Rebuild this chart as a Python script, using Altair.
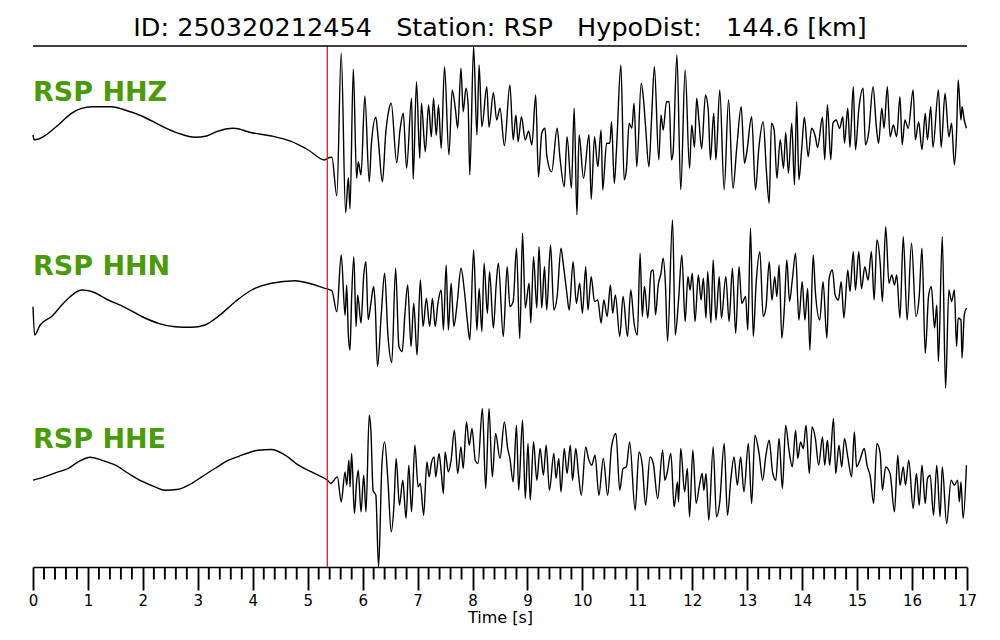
import altair as alt
import pandas as pd

NB = "\u00a0"
TITLE = "ID: 250320212454" + NB * 3 + "Station: RSP" + NB * 3 + "HypoDist:" + NB * 3 + "144.6 [km]"
CHANNELS = ["RSP HHZ", "RSP HHN", "RSP HHE"]
OFFSETS = [173.7, 0.0, -173.7]
PICK_TIME = 5.357
GREEN = "#4a9b08"

HHZ = [(0.00,-2),(0.02,-7),(0.46,7.8),(0.70,19.5),(1.07,26),(1.43,26),(1.67,22.8),(1.98,16.8),(2.34,6.8),(2.65,-0.5),(2.95,-4.5),(3.16,-3.2),(3.34,1.1),(3.65,4.5),(3.98,0.1),(4.34,-3.2),(4.71,-8.9),(5.01,-17.2),(5.31,-27.2),(5.36,-25.5),(5.44,-24.5),(5.53,-63),(5.61,79.5),(5.69,-80),(5.74,-45),(5.77,-76),(5.83,63.5),(5.89,-45.5),(5.92,-29),(5.97,-42),(6.04,36.8),(6.12,-49),(6.16,-10.5),(6.24,15.5),(6.28,-4),(6.36,-49),(6.42,-0.5),(6.47,21),(6.52,29.5),(6.62,-30),(6.68,2.8),(6.74,19.5),(6.80,-35.5),(6.89,34.5),(6.92,-46.5),(6.98,51),(7.04,-25.5),(7.07,29.5),(7.14,-19),(7.20,27.8),(7.25,-4),(7.29,34.5),(7.34,-2.5),(7.38,27.8),(7.43,-15.5),(7.49,66),(7.57,-22),(7.63,42.8),(7.69,22.8),(7.73,4.5),(7.79,64.5),(7.83,21),(7.88,44.5),(7.92,28),(7.95,-42),(8.02,86),(8.08,-2.2),(8.12,67.8),(8.17,6),(8.26,46),(8.30,5.5),(8.38,40),(8.44,12.8),(8.50,24.5),(8.58,-13),(8.68,47.8),(8.74,-7),(8.79,17.8),(8.83,-9),(8.89,16),(8.96,-7),(9.02,1.5),(9.08,-12),(9.15,37.8),(9.20,-44),(9.26,-0.5),(9.32,4.5),(9.35,-22),(9.44,-39),(9.54,4.5),(9.59,-24),(9.67,-54),(9.72,-4),(9.80,-55.5),(9.85,24.5),(9.90,-82),(9.94,-2.2),(10.02,-45.5),(10.12,-2),(10.16,-66.5),(10.22,-4),(10.28,-34),(10.34,2.8),(10.37,-57),(10.44,-10.5),(10.50,-10.5),(10.53,11),(10.58,-50.5),(10.62,-17),(10.70,67.8),(10.76,-47),(10.80,-37),(10.85,9.5),(10.90,4.5),(10.94,29.5),(10.99,-34),(11.07,49.5),(11.11,34.5),(11.15,6),(11.21,-34),(11.26,16),(11.31,66),(11.39,-27),(11.43,17.8),(11.47,2.8),(11.53,31),(11.58,31),(11.62,-27),(11.65,-20),(11.72,77.8),(11.79,-57),(11.87,62.8),(11.95,-35.5),(11.99,7.8),(12.04,-14.5),(12.08,34.5),(12.12,12.8),(12.17,-16),(12.24,37.8),(12.29,23),(12.33,-27),(12.39,19.5),(12.43,-27),(12.50,42.8),(12.58,-57),(12.66,33),(12.74,-55.5),(12.81,-14.5),(12.89,26),(12.95,-30.5),(12.99,-20),(13.08,16),(13.15,-57),(13.21,-16),(13.29,11),(13.35,-39),(13.40,-70.5),(13.44,9.5),(13.49,2.8),(13.54,-45.5),(13.60,-7),(13.66,-35.5),(13.70,0),(13.75,-40.5),(13.81,9.5),(13.86,-52),(13.90,31),(13.94,-47),(13.99,-17),(14.04,15.5),(14.11,-24),(14.17,4.5),(14.24,-4),(14.28,-14.5),(14.37,15.5),(14.41,-27),(14.46,28),(14.52,-27),(14.56,9.5),(14.62,12.8),(14.68,4.5),(14.74,16),(14.77,-10.5),(14.83,24.5),(14.87,-14.5),(14.93,46),(14.97,-17),(15.03,23),(15.11,44.5),(15.15,-12),(15.21,0),(15.29,46),(15.35,6),(15.39,-10.5),(15.45,24.5),(15.49,4.5),(15.55,46),(15.60,-4),(15.66,7.8),(15.72,-4),(15.78,36),(15.82,-12),(15.87,12.8),(15.93,4.5),(16.02,42.8),(16.06,-7),(16.12,11),(16.18,-17),(16.24,19.5),(16.28,-7),(16.34,26),(16.38,-14.5),(16.48,42.8),(16.53,-14.5),(16.60,39.5),(16.67,-4),(16.72,9.5),(16.77,-32),(16.81,0),(16.84,52.8),(16.89,12.8),(16.91,26),(16.95,12.8),(16.99,4.5)]

HHN = [(0.00,-0.2),(0.03,-28.5),(0.13,-18.5),(0.34,-10),(0.58,4.8),(0.89,16.5),(1.07,15),(1.37,6.5),(1.67,-0.8),(1.98,-10),(2.28,-16.8),(2.58,-20.2),(2.89,-20.8),(3.13,-18.5),(3.37,-10),(3.68,4.8),(3.98,16.5),(4.34,23.2),(4.77,25.8),(5.07,22.5),(5.31,18.2),(5.38,17.2),(5.44,15.8),(5.53,-5.2),(5.61,51.5),(5.68,-8.8),(5.71,21.5),(5.74,-28.5),(5.77,-43.5),(5.80,10),(5.84,49.8),(5.88,-20),(5.91,11.5),(5.97,-16.5),(6.02,31.5),(6.06,44.8),(6.10,-13),(6.15,3.2),(6.20,20),(6.23,0),(6.27,-60),(6.34,-6.8),(6.40,33.2),(6.46,-28.5),(6.53,-56),(6.60,38.2),(6.66,-40),(6.72,-45),(6.77,-6.8),(6.82,21.5),(6.88,-40),(6.93,3.2),(6.99,-48.5),(7.05,26.5),(7.10,-20),(7.16,8.2),(7.22,-20),(7.27,8.2),(7.32,-20),(7.37,3.2),(7.43,16.5),(7.47,-23.5),(7.52,41.5),(7.56,-23.5),(7.61,23.2),(7.66,-20),(7.72,3.2),(7.79,38.2),(7.85,16.5),(7.91,-16.5),(7.95,-33.5),(8.02,56.5),(8.08,-23.5),(8.12,18),(8.17,-25),(8.21,43.2),(8.27,-6.8),(8.31,34.8),(8.38,-21.5),(8.43,21.5),(8.47,43.2),(8.56,-30),(8.63,39.8),(8.68,0),(8.74,5),(8.80,58.2),(8.86,-32),(8.91,73.2),(8.96,-1.5),(9.03,23.2),(9.06,-16.5),(9.11,49.8),(9.17,-1.5),(9.21,59.8),(9.26,-1.5),(9.31,39.8),(9.35,-3.5),(9.42,61.5),(9.48,-3.5),(9.54,10),(9.61,58.2),(9.65,43.2),(9.71,16.5),(9.76,-3.5),(9.83,44.8),(9.89,3.2),(9.95,23.2),(10.00,-6.8),(10.06,39.8),(10.10,-3.5),(10.16,29.8),(10.22,5),(10.28,6.5),(10.34,-16.5),(10.39,6.5),(10.45,-10),(10.51,21.5),(10.55,-6.8),(10.60,11.5),(10.68,-30),(10.74,10),(10.82,-30),(10.88,16.5),(10.94,-16.5),(11.00,-28.5),(11.05,53.2),(11.09,-10),(11.13,20),(11.19,-11.5),(11.25,34.8),(11.29,36.5),(11.33,-8.5),(11.38,21.5),(11.43,33.2),(11.47,48.2),(11.51,23.2),(11.55,-35),(11.64,86.5),(11.69,-28.5),(11.75,6.5),(11.81,51.5),(11.87,-15),(11.92,29.8),(11.96,16.5),(12.00,33.2),(12.05,-15),(12.11,31.5),(12.16,6.5),(12.20,28.2),(12.25,-11.5),(12.28,34.8),(12.34,-16.5),(12.38,46.5),(12.43,-13.5),(12.49,29.8),(12.53,-11.5),(12.61,29.8),(12.67,-15),(12.73,38.2),(12.79,-26.8),(12.85,39.8),(12.90,3.2),(12.97,10),(13.01,-23.5),(13.06,78.2),(13.11,-30),(13.16,21.5),(13.23,54.8),(13.29,-10),(13.34,-1.5),(13.40,44.8),(13.45,6.5),(13.50,29.8),(13.54,10),(13.58,41.5),(13.63,-31.7),(13.68,3.2),(13.72,46.5),(13.77,5),(13.82,26.5),(13.88,53.2),(13.94,-13.5),(14.00,24.8),(14.05,-13.5),(14.10,18),(14.14,-43.5),(14.20,51.5),(14.24,15),(14.32,-13.5),(14.38,24.8),(14.45,-31.7),(14.49,28.2),(14.55,36.5),(14.60,11.5),(14.66,6.5),(14.71,24.8),(14.76,-11.5),(14.83,36.5),(14.87,15),(14.93,54.8),(14.97,16.5),(15.03,54.8),(15.08,18),(15.14,39.8),(15.20,26.5),(15.26,54.8),(15.31,6.5),(15.36,66.5),(15.42,43.2),(15.46,5),(15.52,79.8),(15.58,23.2),(15.63,31.5),(15.68,21.5),(15.72,31.5),(15.78,-11.5),(15.84,69.8),(15.91,-13.5),(15.99,63.2),(16.07,-10),(16.13,10),(16.18,58.2),(16.24,-46.8),(16.30,10),(16.35,20),(16.41,-21.5),(16.45,1.5),(16.48,-55),(16.55,69.8),(16.61,-81.8),(16.67,16.5),(16.72,5),(16.77,16.5),(16.81,-40),(16.84,-11.5),(16.89,-13.5),(16.91,-51.5),(16.95,-8.5),(16.99,-1.5)]

HHE = [(0.00,0),(0.21,3.3),(0.46,8.3),(0.64,11.7),(0.82,18.3),(1.04,23),(1.25,20),(1.50,15),(1.74,6.7),(1.98,-1),(2.22,-6.7),(2.40,-10),(2.65,-9),(2.83,-5),(3.07,3.3),(3.31,11.7),(3.56,20),(3.80,25),(4.10,30),(4.34,30.7),(4.59,25),(4.83,15),(5.07,8.3),(5.31,1.7),(5.36,0),(5.42,-3.3),(5.54,3.3),(5.61,-21.7),(5.68,8.3),(5.71,-5),(5.75,20),(5.77,-6.7),(5.80,26.7),(5.85,-33.3),(5.89,-1.7),(5.92,10),(5.97,-31.7),(6.02,5),(6.06,-31.7),(6.12,65),(6.15,50),(6.19,-10),(6.24,-15),(6.29,-86.7),(6.35,15),(6.40,38.3),(6.46,0),(6.52,-51.7),(6.57,-25),(6.61,21.7),(6.67,-25),(6.73,0),(6.79,-38.3),(6.84,15),(6.89,-31.7),(6.95,35),(7.01,-6.7),(7.05,-3.3),(7.11,-35),(7.17,18.3),(7.21,3.3),(7.25,16.7),(7.30,23.3),(7.33,3.3),(7.39,26.7),(7.43,8.3),(7.47,-13.3),(7.50,28.3),(7.56,8.3),(7.61,20),(7.67,50),(7.73,6.7),(7.79,33.3),(7.83,11.7),(7.89,58.3),(7.94,35),(7.99,51.7),(8.05,20),(8.10,16.7),(8.18,71.7),(8.24,-8.3),(8.30,71.7),(8.36,3.3),(8.42,46.7),(8.50,21.7),(8.58,58.3),(8.64,31.7),(8.68,21.7),(8.74,-1.7),(8.80,55),(8.84,-10),(8.91,60),(8.96,-18.3),(9.01,36.7),(9.05,-20),(9.11,38.3),(9.17,0),(9.23,31.7),(9.29,5),(9.34,35),(9.40,-10),(9.48,26.7),(9.52,1.7),(9.57,21.7),(9.61,-11.7),(9.67,31.7),(9.72,6.7),(9.78,35),(9.82,0),(9.88,31.7),(9.93,5),(9.98,-15),(10.06,33.3),(10.11,21.7),(10.17,15),(10.23,25),(10.30,-15),(10.38,21.7),(10.46,-15),(10.53,33.3),(10.61,46.7),(10.68,-10),(10.74,11.7),(10.80,13.3),(10.86,38.3),(10.96,-30),(11.03,28.3),(11.09,15),(11.15,-25),(11.23,23.3),(11.29,16.7),(11.37,-18.3),(11.46,30),(11.50,0),(11.54,6.7),(11.61,26.7),(11.67,-26.7),(11.73,-1.7),(11.75,-21.7),(11.79,31.7),(11.86,-11.7),(11.91,11.7),(11.95,-36.7),(12.01,30),(12.07,-23.3),(12.13,-5),(12.18,6.7),(12.21,-10),(12.25,6.7),(12.30,-40),(12.38,33.3),(12.44,-36.7),(12.50,-21.7),(12.58,36.7),(12.64,-35),(12.70,0),(12.76,23.3),(12.82,-5),(12.88,23.3),(12.94,-11.7),(13.02,36.7),(13.08,-23.3),(13.14,45),(13.22,25),(13.28,0),(13.34,25),(13.40,40),(13.46,8.3),(13.52,0),(13.58,41.7),(13.64,-8.3),(13.70,55),(13.76,30),(13.82,13.3),(13.88,50),(13.92,21.7),(13.97,38.3),(14.02,31.7),(14.07,55),(14.13,6.7),(14.18,53.3),(14.24,41.7),(14.30,15),(14.37,43.3),(14.41,15),(14.46,40),(14.50,15),(14.57,61.7),(14.61,6.7),(14.67,35),(14.72,13.3),(14.77,41.7),(14.83,23.3),(14.90,3.3),(14.95,48.3),(14.99,13.3),(15.05,20),(15.13,31.7),(15.18,15),(15.24,3.3),(15.30,-23.3),(15.36,36.7),(15.42,26.7),(15.46,-10),(15.52,13.3),(15.60,6.7),(15.68,-31.7),(15.74,25),(15.78,-5),(15.84,13.3),(15.88,-5),(15.94,20),(16.02,-28.3),(16.08,6.7),(16.13,-25),(16.18,15),(16.24,-23.3),(16.28,1.7),(16.33,5),(16.39,-35),(16.45,15),(16.51,-36.7),(16.55,13.3),(16.63,-43.3),(16.71,0),(16.77,-5),(16.83,0),(16.86,-21.7),(16.89,-1.7),(16.93,-38.3),(16.99,15)]

MAJOR_TICKS = list(range(0, 18))
MINOR_TICKS = [round(i * 0.2, 1) for i in range(86) if i % 5 != 0]

rows = []
for name, off, series in zip(CHANNELS, OFFSETS, [HHZ, HHN, HHE]):
    for t, a in series:
        rows.append({"trace": name, "t": t, "y": off + a})
df = pd.DataFrame(rows)
labels = pd.DataFrame({"trace": CHANNELS, "t": [0.0] * 3, "y": [o + 32 for o in OFFSETS]})

YLO, YHI = -260.5, 260.5
MINOR_LEN = 12.5
xscale = alt.Scale(domain=[0, 17], nice=False, zero=False)
yscale = alt.Scale(domain=[YLO, YHI], nice=False, zero=False)

xaxis = alt.Axis(
    values=MAJOR_TICKS, format="d",
    tickSize=23, tickWidth=1.9, tickColor="black", domainColor="black", domainWidth=1.6,
    labelFontSize=15, labelFont="DejaVu Sans", labelColor="black", labelPadding=3,
    labelOverlap=False, labelFlush=False,
    title="Time [s]", titleFontSize=16, titleFont="DejaVu Sans", titleFontWeight="normal",
    titleColor="black", titlePadding=1, grid=False,
)

def X(field):
    return alt.X(field, scale=xscale, axis=xaxis)

def Y(field):
    return alt.Y(field, scale=yscale, axis=None)

traces = alt.Chart(df).mark_line(color="black", strokeWidth=1.4, interpolate="monotone").encode(
    x=X("t:Q"), y=Y("y:Q"), detail="trace:N",
)

texts = alt.Chart(labels).mark_text(
    align="left", baseline="alphabetic", font="DejaVu Sans", fontWeight="bold",
    fontSize=27, color=GREEN,
).encode(x=X("t:Q"), y=Y("y:Q"), text="trace:N")

minor_df = pd.DataFrame({"t": MINOR_TICKS, "y0": [YLO] * len(MINOR_TICKS),
                         "y1": [YLO - MINOR_LEN] * len(MINOR_TICKS)})
minor = alt.Chart(minor_df).mark_rule(color="black", strokeWidth=1.9).encode(
    x=X("t:Q"), y=Y("y0:Q"), y2="y1:Q"
)

pick_df = pd.DataFrame({"t": [PICK_TIME], "y0": [YLO], "y1": [YHI]})
pick = alt.Chart(pick_df).mark_rule(color="#f01c1c", strokeWidth=1.3).encode(
    x=X("t:Q"), y=Y("y0:Q"), y2="y1:Q"
)

top_df = pd.DataFrame({"t": [0.0], "t2": [17.0], "y": [YHI]})
topline = alt.Chart(top_df).mark_rule(color="black", strokeWidth=1.6).encode(
    x=X("t:Q"), x2="t2:Q", y=Y("y:Q")
)

chart = alt.layer(traces, pick, texts, topline, minor).properties(
    width=934, height=521,
    title=alt.TitleParams(TITLE, fontSize=25.5, font="DejaVu Sans", fontWeight="normal",
                          anchor="middle", color="black", offset=3),
    autosize=alt.AutoSizeParams(type="none"),
    padding={"left": 25, "top": 38, "right": 20, "bottom": 62},
).configure_view(strokeWidth=0)

chart.save("out.html", embed_options={"renderer": "svg", "actions": False})
